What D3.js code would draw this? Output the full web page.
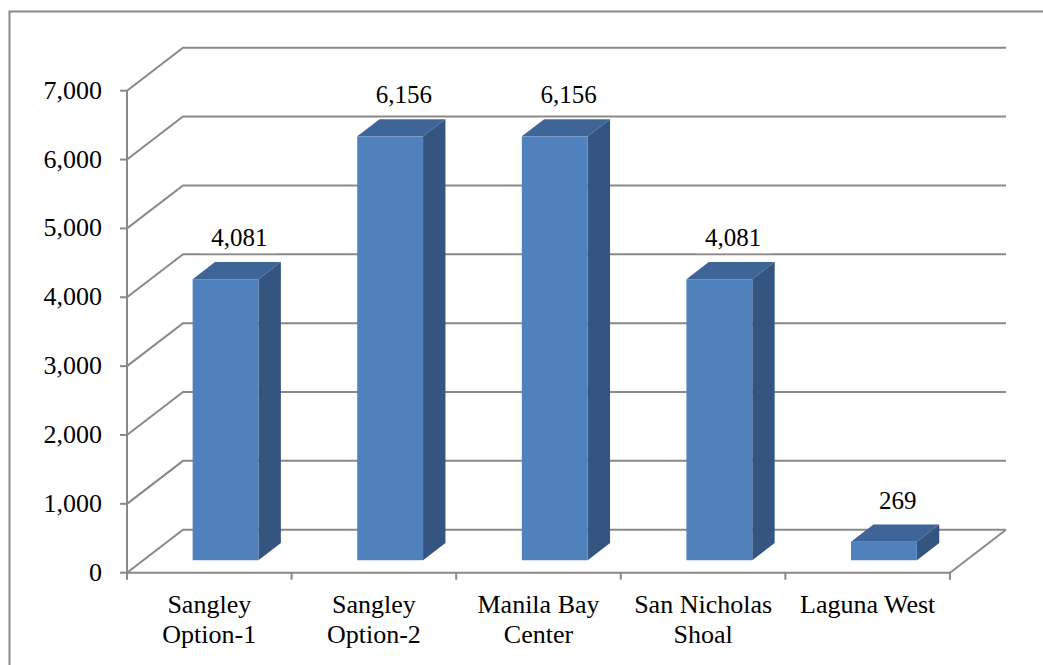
<!DOCTYPE html>
<html>
<head>
<meta charset="utf-8">
<script src="https://cdn.jsdelivr.net/npm/d3@7"></script>
<style>
  html, body { margin: 0; padding: 0; background: #fff; overflow: hidden; }
  svg { display: block; }
  text { font-family: "Liberation Serif", "Times New Roman", serif; fill: #000; }
</style>
</head>
<body>
<svg id="chart" width="1043" height="665"></svg>
<script>
// Chart data
const categories = [
  ["Sangley", "Option-1"],
  ["Sangley", "Option-2"],
  ["Manila Bay", "Center"],
  ["San Nicholas", "Shoal"],
  ["Laguna West"]
];
const values = [4081, 6156, 6156, 4081, 269];
const yTicks = [0, 1000, 2000, 3000, 4000, 5000, 6000, 7000];

const svg = d3.select("#chart");
const fmt = d3.format(",");

// Oblique 3-D projection: depth d in [0,1] shifts right and up
const DX = 56, DY = -43;
const proj = (x, y, d) => [x + DX * d, y + DY * d];

const y = d3.scaleLinear().domain([0, 7000]).range([572.7, 90.7]);
const x = d3.scaleBand()
  .domain(d3.range(categories.length))
  .range([127, 950])
  .paddingInner(0.6)
  .paddingOuter(0.3);
const step = x.step();
const xStart = 127, xEnd = 950;

const gridColor = "#898989";
const frontCol = "#4f81bd", sideCol = "#34557f", topCol = "#3e6597";

// Outer chart border
svg.append("rect")
  .attr("x", 9.5).attr("y", 11.5)
  .attr("width", 1100).attr("height", 700)
  .attr("fill", "none").attr("stroke", "#8a8a8a").attr("stroke-width", 2);

const walls = svg.append("g").attr("fill", "none").attr("stroke", gridColor).attr("stroke-width", 2);
const line = d3.line();

// Back wall gridlines and side wall diagonals
yTicks.forEach(v => {
  const a = proj(xStart, y(v), 0), b = proj(xStart, y(v), 1), c = proj(xEnd, y(v), 1);
  walls.append("path").attr("d", line([a, b, c]));
});
// Floor right edge
walls.append("path").attr("d", line([proj(xEnd, y(0), 0), proj(xEnd, y(0), 1)]));

// Bars: top, side, front faces
const d0 = 0.29, d1 = 0.69;
const bars = svg.append("g");
values.forEach((v, i) => {
  const xl = x(i), xr = x(i) + x.bandwidth();
  const yb = y(0), yt = y(v);
  const g = bars.append("g");
  // top
  g.append("path").attr("fill", topCol)
    .attr("d", line([proj(xl, yt, d0), proj(xr, yt, d0), proj(xr, yt, d1), proj(xl, yt, d1)]) + "Z");
  // side
  g.append("path").attr("fill", sideCol)
    .attr("d", line([proj(xr, yb, d0), proj(xr, yt, d0), proj(xr, yt, d1), proj(xr, yb, d1)]) + "Z");
  // front
  const p = proj(xl, yt, d0), q = proj(xr, yb, d0);
  g.append("rect").attr("fill", frontCol)
    .attr("x", p[0]).attr("y", p[1]).attr("width", q[0] - p[0]).attr("height", q[1] - p[1]);
});

// Value labels with white backing
const labels = svg.append("g");
values.forEach((v, i) => {
  const c = proj(x(i) + x.bandwidth() / 2, y(v), 0.5);
  const g = labels.append("g");
  const bg = g.append("rect").attr("fill", "#fff");
  const t = g.append("text")
    .attr("x", c[0] + 2).attr("y", c[1] - 24)
    .attr("text-anchor", "middle")
    .attr("font-size", 25)
    .text(fmt(v));
  const bb = t.node().getBBox();
  bg.attr("x", bb.x - 10).attr("y", bb.y - 2).attr("width", bb.width + 20).attr("height", bb.height + 4);
});

// Value axis
const axisG = svg.append("g").attr("stroke", gridColor).attr("stroke-width", 2);
axisG.append("line").attr("x1", xStart).attr("x2", xStart).attr("y1", y(7000)).attr("y2", y(0) + 6);
yTicks.forEach(v => {
  axisG.append("line").attr("x1", xStart - 7).attr("x2", xStart).attr("y1", y(v)).attr("y2", y(v));
});
svg.append("g").selectAll("text").data(yTicks).join("text")
  .attr("x", 102).attr("y", d => y(d) + 8)
  .attr("text-anchor", "end")
  .attr("font-size", 26)
  .text(d => fmt(d));

// Category axis
axisG.append("line").attr("x1", xStart).attr("x2", xEnd).attr("y1", y(0)).attr("y2", y(0));
d3.range(categories.length + 1).forEach(k => {
  const xx = xStart + k * step;
  axisG.append("line").attr("x1", xx).attr("x2", xx).attr("y1", y(0)).attr("y2", y(0) + 7);
});
const catG = svg.append("g");
categories.forEach((lines, i) => {
  const cx = x(i) + x.bandwidth() / 2;
  const t = catG.append("text").attr("text-anchor", "middle").attr("font-size", 26);
  lines.forEach((s, j) => {
    t.append("tspan").attr("x", cx).attr("y", y(0) + 40 + j * 30.5).text(s);
  });
});
</script>
</body>
</html>
